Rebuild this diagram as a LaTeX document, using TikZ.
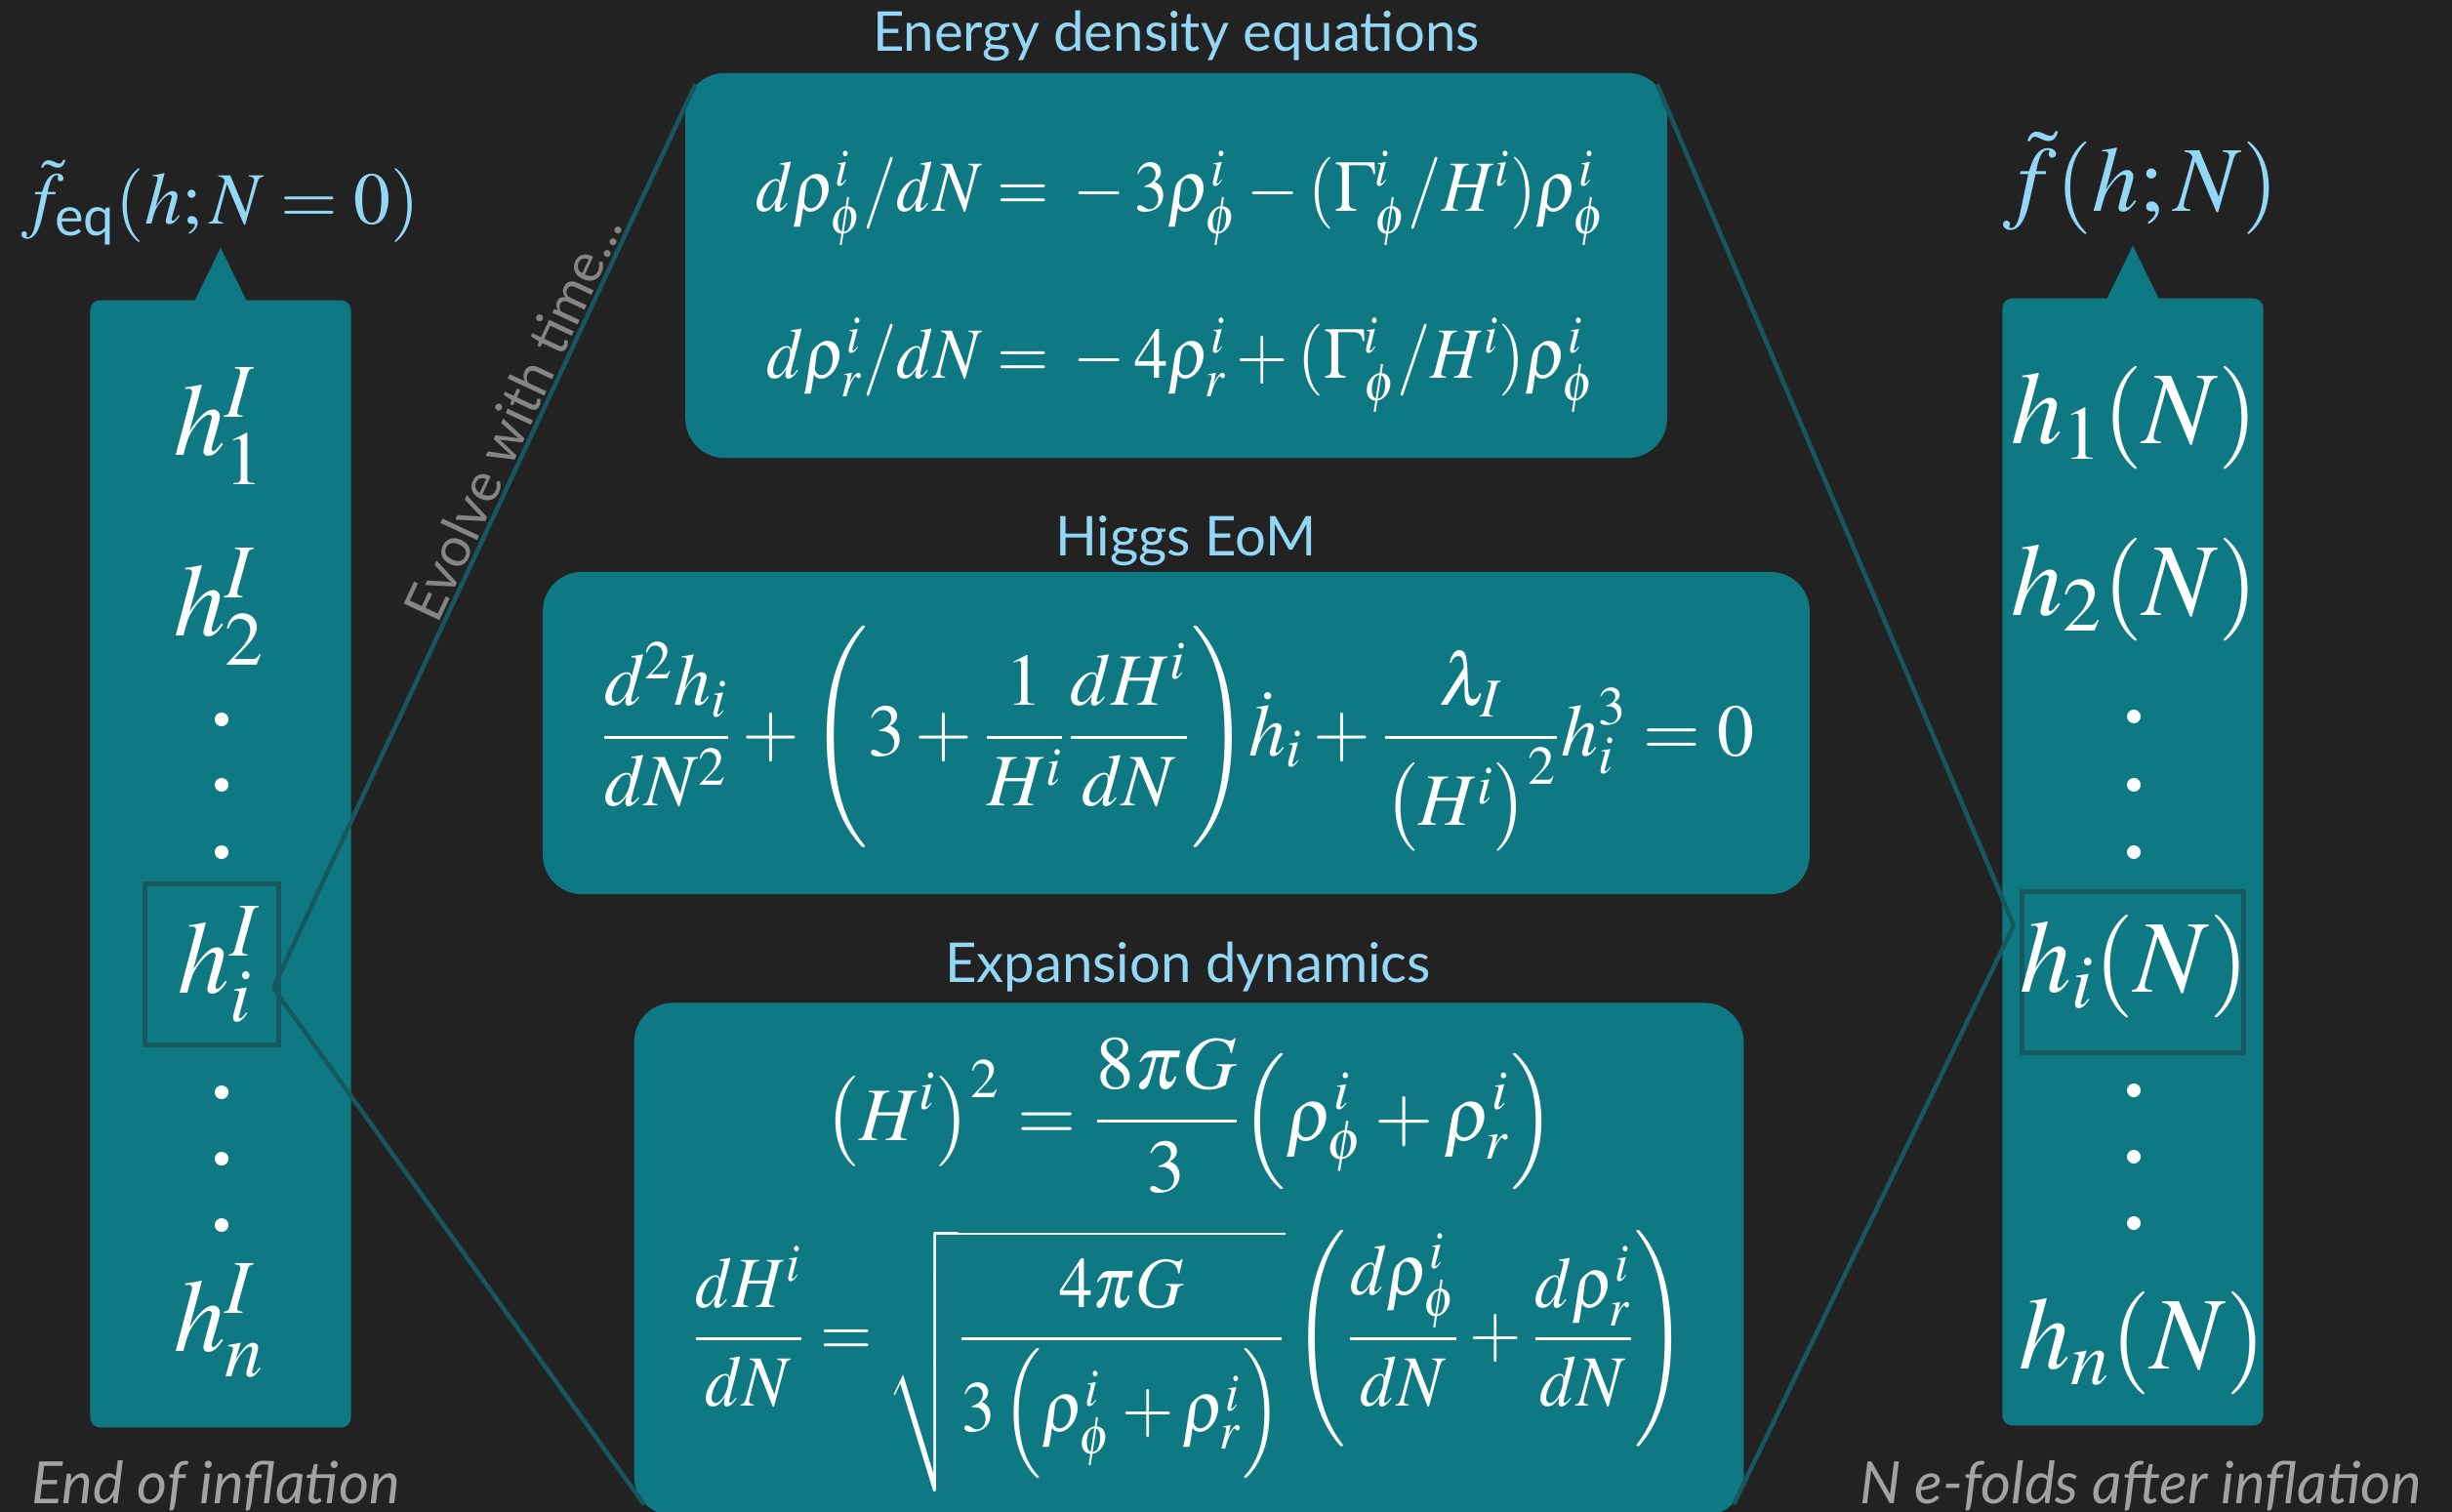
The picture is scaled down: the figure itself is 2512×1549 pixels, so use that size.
\documentclass[tikz,border=0pt]{standalone}
\usepackage{amsmath}
\usepackage{mathptmx}
\usepackage[no-math]{fontspec}
\setsansfont{Lato}
\newfontfamily\titlefont{Lato}
\usetikzlibrary{positioning,calc}

\definecolor{bgdark}{HTML}{222222}
\definecolor{tealbox}{HTML}{0E7983}
\definecolor{tealline}{HTML}{17575F}
\definecolor{titleblue}{HTML}{93D7F6}
\definecolor{notegray}{HTML}{A2A2A2}
\definecolor{evogray}{HTML}{858585}

\begin{document}
\begin{tikzpicture}[
  x=0.01cm, y=-0.01cm,
  colbox/.style={fill=tealbox, rounded corners=0.1cm, inner sep=0pt,
                 minimum width=2.67cm, minimum height=11.54cm},
  eqbox/.style={fill=tealbox, rounded corners=0.4cm, inner sep=0pt},
  entry/.style={text=white, inner sep=0pt, font=\fontsize{30}{36}\selectfont},
  eqn/.style={text=white, inner sep=0pt, font=\fontsize{21}{25}\selectfont},
  ttl/.style={text=titleblue, anchor=base, font=\titlefont\fontsize{16}{19}\selectfont},
  note/.style={text=notegray, anchor=base, font=\titlefont\itshape\fontsize{17}{20}\selectfont},
  evo/.style={sloped, above, pos=0.62, inner sep=0.02cm, text=evogray,
              font=\titlefont\fontsize{16}{19}\selectfont},
  hl/.style={draw=tealline, line width=0.05cm, inner sep=0pt},
  zoomline/.style={draw=tealline, line width=0.045cm},
]
\fill[bgdark] (0,0) rectangle (2512,1549);
\useasboundingbox (0,0) rectangle (2512,1549);

% initial field values
\node[colbox] (initcol) at (226,885) {};
\fill[tealbox] ([xshift=-0.27cm,yshift=-0.02cm]initcol.north) -- ++(0.27cm,0.55cm) -- ++(0.27cm,-0.55cm) -- cycle;
\node[text=titleblue, font=\fontsize{21.5}{26}\selectfont] (initlbl) at (226,208) {$\tilde f_{\text{\sffamily eq}}(h;N=0)$};
\node[entry] (h1I) at (225,437) {$h_1^I$};
\node[entry] (h2I) at (225,622) {$h_2^I$};
\node[hl, minimum width=1.36cm, minimum height=1.64cm] (selI) at (217,988) {};
\node[entry] (hiI) at (225,988) {$h_i^I$};
\node[entry] (hnI) at (225,1353) {$h_n^I$};
\foreach \y in {737,804,873,1119,1187,1255}
  \fill[white] (227,\y) circle (0.07cm);
\node[note] (endlbl) at (221,1540) {End of inflation};

% evolved field values
\node[colbox] (finalcol) at (2185,883) {};
\fill[tealbox] ([xshift=-0.27cm,yshift=-0.02cm]finalcol.north) -- ++(0.27cm,0.55cm) -- ++(0.27cm,-0.55cm) -- cycle;
\node[text=titleblue, font=\fontsize{27}{32}\selectfont] (finallbl) at (2193,188) {$\tilde f(h;N)$};
\node[entry] (h1N) at (2187,428) {$h_1(N)$};
\node[entry] (h2N) at (2187,604) {$h_2(N)$};
\node[hl, minimum width=2.26cm, minimum height=1.64cm] (selN) at (2185,996) {};
\node[entry] (hiN) at (2187,990) {$h_i(N)$};
\node[entry] (hnN) at (2195,1376) {$h_n(N)$};
\foreach \y in {734,804,873,1117,1185,1253}
  \fill[white] (2186,\y) circle (0.07cm);
\node[note] (efoldlbl) at (2193,1540) {N e-folds after inflation};

% equations
\node[eqbox, minimum width=10.05cm, minimum height=3.94cm] (enbox) at (1205,272) {};
\node[ttl] (entitle) at (1205,53) {Energy density equations};
\node[eqn, anchor=base] (rhophi) at (1210,217) {\scalebox{0.93}[1]{$d\rho_\phi^i/dN ={}- 3\rho_\phi^i - (\Gamma_\phi^i/H^i)\rho_\phi^i$}};
\node[eqn, anchor=base] (rhor) at (1210,388) {\scalebox{0.93}[1]{$d\rho_r^i/dN ={}- 4\rho_r^i + (\Gamma_\phi^i/H^i)\rho_\phi^i$}};

\node[eqbox, minimum width=12.97cm, minimum height=3.30cm] (eombox) at (1205,751) {};
\node[ttl] (eomtitle) at (1215,569) {Higgs EoM};
\node[eqn, font=\fontsize{21.5}{26}\selectfont] (eom) at (1206,757) {$\displaystyle \frac{d^2h_i}{dN^2}+\Biggl(3+\frac{1}{H^i}\frac{dH^i}{dN}\Biggr)\dot h_i+\frac{\lambda_I}{\bigl(H^i\bigr)^2}h_i^3=0$};

\node[eqbox, minimum width=11.36cm, minimum height=5.25cm] (expbox) at (1218,1290) {};
\node[ttl] (exptitle) at (1217,1006) {Expansion dynamics};
\node[eqn, font=\fontsize{22}{26}\selectfont] (friedmann) at (1219,1143) {$\displaystyle \bigl(H^i\bigr)^2=\frac{8\pi G}{3}\Bigl(\rho_\phi^i+\rho_r^i\Bigr)$};
\node[eqn] (hubbledot) at (1219,1394) {\scalebox{0.93}[1]{$\displaystyle \frac{dH^i}{dN}=\sqrt{\frac{4\pi G}{3\left(\rho_\phi^i+\rho_r^i\right)}}\left(\frac{d\rho_\phi^i}{dN}+\frac{d\rho_r^i}{dN}\right)$}};

% zoom lines
\coordinate (lv) at (280,1012);
\coordinate (rv) at (2063,948);
\draw[zoomline] (lv) -- node[evo] {Evolve with time...} ([xshift=0.11cm,yshift=-0.12cm]enbox.north west);
\draw[zoomline] (lv) -- ([xshift=0.11cm,yshift=0.12cm]expbox.south west);
\draw[zoomline] (rv) -- ([xshift=-0.11cm,yshift=-0.12cm]enbox.north east);
\draw[zoomline] (rv) -- ([xshift=-0.11cm,yshift=0.12cm]expbox.south east);
\end{tikzpicture}
\end{document}
